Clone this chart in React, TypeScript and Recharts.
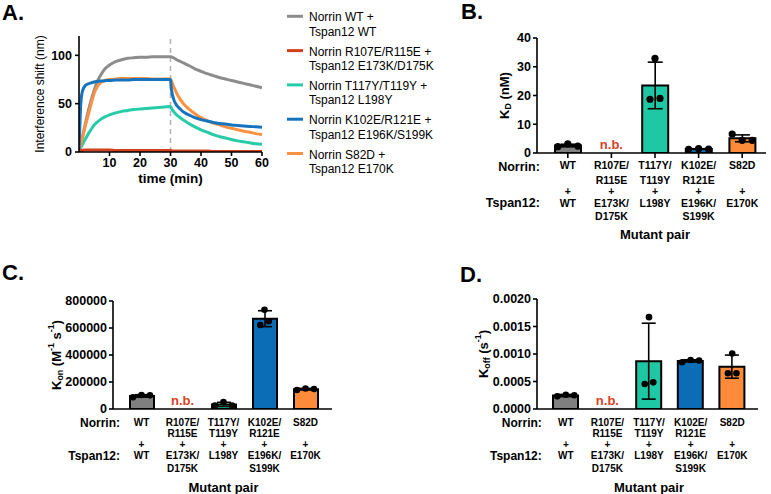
import React from 'react';
import { LineChart, Line, XAxis, YAxis, ReferenceLine, ComposedChart, Bar, Cell, ErrorBar, Scatter } from 'recharts';

const FONT = '"Liberation Sans", Arial, Helvetica, sans-serif';

// ---------- Panel A: binding kinetics (time in min, shift in nm) ----------
const timeMin = [0, 0.25, 0.5, 0.75, 1, 1.5, 2, 3, 4, 5, 6, 7, 8, 9, 10, 12, 14, 16, 18, 20, 22, 24, 26, 28, 30,
  30.25, 30.5, 31, 31.5, 32, 33, 34, 35, 36, 38, 40, 42, 44, 46, 48, 50, 52, 54, 56, 58, 60];
const wtShift = [0, 3.5, 7, 10.5, 14, 21, 28, 42, 54, 64, 73, 79, 84, 87.5, 90, 93.5, 95.5, 97, 97.5, 98, 98, 98.5, 98.5, 98.5, 98.5,
  98.5, 98, 97.5, 96.5, 95.5, 94, 92.5, 91, 89.5, 86, 83.5, 81, 79, 77, 75.5, 74, 72.5, 71, 69.5, 68, 66.5];
const r107Shift = [0, 1, 1.5, 1.5, 1.5, 2, 2, 2, 2, 2, 2, 2, 2, 2, 2, 1.5, 1.5, 1.5, 1.5, 1.5, 1.5, 1.5, 1.5, 1.5, 1.5,
  1.5, 1, 1, 1, 1, 1, 1, 1, 1, 1, 1, 1, 0.5, 0.5, 0.5, 0.5, 0.5, 0.5, 0.5, 0.5, 0.5];
const t117Shift = [0, 1.8, 3.5, 5.3, 7, 10, 13, 18.5, 23.5, 28, 31, 33.5, 35.5, 37, 38.5, 40.5, 42, 43, 44, 44.5, 45, 45.5, 46, 46.5, 47,
  45.5, 44, 42, 40, 38.5, 36, 33.5, 31.5, 29.5, 26, 23, 20.5, 18, 16, 14.5, 13, 11.5, 10.5, 9.5, 8.5, 8];
const k102Shift = [0, 25, 45, 56, 61, 66, 68.5, 70.5, 71.5, 72.5, 73, 73.5, 73.5, 74, 74, 74.5, 74.5, 74.5, 75, 75, 75, 75, 75, 75, 75,
  66, 61, 55, 51, 48.5, 45, 42, 40, 38.5, 35.5, 33.5, 32, 30.5, 29.5, 29, 28, 27.5, 27, 26.5, 26, 25.5];
const s82Shift = [0, 3, 6.5, 10, 13, 19.5, 26, 38, 50, 61, 67.5, 71.5, 73.5, 74.5, 75, 75.5, 76, 76, 76, 76, 76, 75.5, 75.5, 75.5, 75.5,
  74, 72, 68, 64.5, 61, 55.5, 51, 47.5, 44.5, 39.5, 35.5, 32.5, 30, 28, 26, 24.5, 23, 21.5, 20.5, 19, 18];

const legendLabels = [
  ['Norrin WT +', 'Tspan12 WT'],
  ['Norrin R107E/R115E +', 'Tspan12 E173K/D175K'],
  ['Norrin T117Y/T119Y +', 'Tspan12 L198Y'],
  ['Norrin K102E/R121E +', 'Tspan12 E196K/S199K'],
  ['Norrin S82D +', 'Tspan12 E170K'],
];
const lineKeys = ['wt', 'r107', 't117', 'k102', 's82'];
const lineColors = ['#8c8c8c', '#d2401e', '#26cba8', '#1674be', '#fd9142'];
const drawOrder = [0, 2, 4, 3, 1];

const kineticsData = timeMin.map((t, i) => ({
  t,
  wt: wtShift[i],
  r107: r107Shift[i],
  t117: t117Shift[i],
  k102: k102Shift[i],
  s82: s82Shift[i],
}));

// ---------- Panels B-D: mutant pairs ----------
const pairKeys = ['WT', 'R107E/R115E', 'T117Y/T119Y', 'K102E/R121E', 'S82D'];
const norrinLabels = [['WT'], ['R107E/', 'R115E'], ['T117Y/', 'T119Y'], ['K102E/', 'R121E'], ['S82D']];
const tspanLabels = [['WT'], ['E173K/', 'D175K'], ['L198Y'], ['E196K/', 'S199K'], ['E170K']];
const noBinding = [false, true, false, false, false];
const barColors = ['#808080', '#d8431f', '#1fc8a5', '#0a6db6', '#fd8b3a'];
const NB_COLOR = '#d8431f';

const kdMean = [2.6, null, 23.5, 1.4, 5.1];
const kdSd = [0.45, null, 8.1, 0.1, 1.2];
const kdRep1 = [2.2, null, 32.9, 1.3, 6.6];
const kdRep2 = [3.2, null, 18.7, 1.5, 4.4];
const kdRep3 = [2.4, null, 19.0, 1.4, 4.4];
const kdTicks = [0, 10, 20, 30, 40];

const konMean = [97000, null, 34000, 669000, 147000];
const konSd = [9000, null, 15500, 59000, 5500];
const konRep1 = [87000, null, 25000, 622000, 141000];
const konRep2 = [104000, null, 52000, 735000, 152000];
const konRep3 = [101000, null, 25000, 650000, 148000];
const konTicks = [0, 200000, 400000, 600000, 800000];

const koffMean = [0.000245, null, 0.00087, 0.000875, 0.00077];
const koffSd = [0.00002, null, 0.00069, 0.00002, 0.00021];
const koffRep1 = [0.00023, null, 0.000455, 0.00085, 0.00065];
const koffRep2 = [0.00026, null, 0.00167, 0.00089, 0.00101];
const koffRep3 = [0.00025, null, 0.000485, 0.00088, 0.00065];
const koffTicks = [0, 0.0005, 0.001, 0.0015, 0.002];

function buildRows(mean: (number | null)[], sd: (number | null)[], r1: (number | null)[], r2: (number | null)[], r3: (number | null)[]) {
  return pairKeys.map((cat, i) => ({
    cat,
    mean: mean[i],
    sd: sd[i],
    r1: r1[i],
    r2: r2[i],
    r3: r3[i],
  }));
}
const kdRows = buildRows(kdMean, kdSd, kdRep1, kdRep2, kdRep3);
const konRows = buildRows(konMean, konSd, konRep1, konRep2, konRep3);
const koffRows = buildRows(koffMean, koffSd, koffRep1, koffRep2, koffRep3);

// ---------- helpers ----------
const axisStroke = { stroke: '#000', strokeWidth: 1.6 };
const tickText = { fontSize: 12.5, fontWeight: 700, fill: '#000', fontFamily: FONT };

// beeswarm-like horizontal spread of replicate dots (GraphPad style)
function swarmOffsets(vals: (number | null)[], domMax: number, plotH: number, spacing: number) {
  const px = vals.map((v) => (v == null ? NaN : (v / domMax) * plotH));
  const idx = [0, 1, 2].filter((i) => !isNaN(px[i])).sort((a, b) => px[a] - px[b]);
  const offs = [0, 0, 0];
  let cluster: number[] = [];
  const flush = () => {
    const c = [...cluster].sort((a, b) => a - b);
    c.forEach((ix, j) => {
      offs[ix] = (j - (c.length - 1) / 2) * spacing;
    });
    cluster = [];
  };
  idx.forEach((ix, k) => {
    if (k > 0 && px[ix] - px[idx[k - 1]] > 7.5) flush();
    cluster.push(ix);
  });
  flush();
  return offs;
}

function makeDot(which: number, domMax: number, plotH: number, spacing: number, r: number) {
  return (props: any) => {
    const { cx, cy, payload } = props;
    if (cx == null || cy == null || !isFinite(cx) || !isFinite(cy) || payload == null) return <g />;
    const vals = [payload.r1, payload.r2, payload.r3];
    if (vals[which] == null) return <g />;
    const offs = swarmOffsets(vals, domMax, plotH, spacing);
    return <circle cx={cx + offs[which]} cy={cy} r={r} fill="#000" />;
  };
}

type Part = { t: string; sub?: boolean; sup?: boolean };

function YTitle(props: any) {
  const { viewBox, cx, parts, fontSize, weight } = props;
  const cy = viewBox.y + viewBox.height / 2;
  let shift = 0;
  const spans = (parts as Part[]).map((p, i) => {
    const target = p.sub ? 3.5 : p.sup ? -5 : 0;
    const dy = target - shift;
    shift = target;
    return (
      <tspan key={i} dy={dy} fontSize={p.sub || p.sup ? fontSize * 0.68 : fontSize}>
        {p.t}
      </tspan>
    );
  });
  return (
    <text
      x={cx}
      y={cy}
      transform={`rotate(-90 ${cx} ${cy})`}
      textAnchor="middle"
      dominantBaseline="central"
      fontFamily={FONT}
      fontWeight={weight || 700}
      fontSize={fontSize}
      fill="#000"
    >
      {spans}
    </text>
  );
}

function XTitle(props: any) {
  const { viewBox, dy, text } = props;
  const cx = viewBox.x + viewBox.width / 2;
  return (
    <text x={cx} y={viewBox.y + dy} textAnchor="middle" dominantBaseline="central" fontFamily={FONT} fontWeight={700} fontSize={13.5} fill="#000">
      {text}
    </text>
  );
}

type TickCfg = {
  tickSize: number;
  rows: number[];
  catFont: number;
  rowFont: number;
  titleFont: number;
  rowLabelDx: number;
  rowLabelDy: number;
  nbDy: number;
};

function CatTick(props: any) {
  const { x, y, payload, cfg } = props as { x: number; y: number; payload: any; cfg: TickCfg };
  const i: number = props.index ?? payload?.index ?? pairKeys.indexOf(payload?.value);
  const ay = y - cfg.tickSize;
  const common = { fontFamily: FONT, fontWeight: 700, fill: '#000', dominantBaseline: 'central' as const };
  const n = norrinLabels[i] || [];
  const t = tspanLabels[i] || [];
  return (
    <g>
      {n.map((s, k) => (
        <text key={'n' + k} x={x} y={ay + cfg.rows[k]} textAnchor="middle" fontSize={cfg.catFont} {...common}>
          {s}
        </text>
      ))}
      <text x={x} y={ay + cfg.rows[2]} textAnchor="middle" fontSize={cfg.catFont} {...common}>
        +
      </text>
      {t.map((s, k) => (
        <text key={'t' + k} x={x} y={ay + cfg.rows[3 + k]} textAnchor="middle" fontSize={cfg.catFont} {...common}>
          {s}
        </text>
      ))}
      {i === 0 && (
        <>
          <text x={x + cfg.rowLabelDx} y={ay + cfg.rows[0] + cfg.rowLabelDy} textAnchor="end" fontSize={cfg.rowFont} {...common}>
            Norrin:
          </text>
          <text x={x + cfg.rowLabelDx} y={ay + cfg.rows[3]} textAnchor="end" fontSize={cfg.rowFont} {...common}>
            Tspan12:
          </text>
        </>
      )}
      {i === 2 && (
        <text x={x} y={ay + cfg.rows[5]} textAnchor="middle" fontSize={cfg.titleFont} {...common}>
          Mutant pair
        </text>
      )}
      {noBinding[i] && (
        <text x={x} y={ay - cfg.nbDy} textAnchor="middle" fontSize={13} fontFamily={FONT} fontWeight={700} fill={NB_COLOR} dominantBaseline="central">
          n.b.
        </text>
      )}
    </g>
  );
}

type BarPanelProps = {
  rows: any[];
  width: number;
  height: number;
  margin: { top: number; right: number; left: number; bottom: number };
  yWidth: number;
  xHeight: number;
  domainMax: number;
  ticks: number[];
  tickFmt?: (v: number) => string;
  padding: { left: number; right: number };
  barSize: number;
  cfg: TickCfg;
  showCatTicks: boolean;
  titleCx: number;
  titleParts: Part[];
  plotH: number;
  spacing: number;
  dotR: number;
  capW: number;
};

function BarPanel(p: BarPanelProps) {
  return (
    <ComposedChart width={p.width} height={p.height} data={p.rows} margin={p.margin}>
      <XAxis
        dataKey="cat"
        type="category"
        interval={0}
        height={p.xHeight}
        padding={p.padding}
        axisLine={axisStroke}
        tickLine={p.showCatTicks ? axisStroke : false}
        tickSize={p.cfg.tickSize}
        tickMargin={0}
        tick={<CatTick cfg={p.cfg} />}
      />
      <YAxis
        type="number"
        domain={[0, p.domainMax]}
        ticks={p.ticks}
        width={p.yWidth}
        tick={tickText}
        tickFormatter={p.tickFmt}
        tickSize={4}
        tickMargin={2}
        axisLine={axisStroke}
        tickLine={axisStroke}
        allowDataOverflow
        label={<YTitle cx={p.titleCx} parts={p.titleParts} fontSize={13} />}
      />
      <Bar dataKey="mean" barSize={p.barSize} stroke="#000" strokeWidth={2} isAnimationActive={false}>
        {p.rows.map((_, i) => (
          <Cell key={i} fill={barColors[i]} />
        ))}
        <ErrorBar dataKey="sd" width={p.capW} stroke="#000" strokeWidth={1.6} direction="y" />
      </Bar>
      <Scatter dataKey="r1" isAnimationActive={false} shape={makeDot(0, p.domainMax, p.plotH, p.spacing, p.dotR)} />
      <Scatter dataKey="r2" isAnimationActive={false} shape={makeDot(1, p.domainMax, p.plotH, p.spacing, p.dotR)} />
      <Scatter dataKey="r3" isAnimationActive={false} shape={makeDot(2, p.domainMax, p.plotH, p.spacing, p.dotR)} />
    </ComposedChart>
  );
}

const cfgB: TickCfg = { tickSize: 5, rows: [12.4, 26.7, 38.4, 50, 63.4, 81.7], catFont: 10.5, rowFont: 12.5, titleFont: 13, rowLabelDx: -28, rowLabelDy: 1.5, nbDy: 9 };
const cfgC: TickCfg = { tickSize: 0, rows: [13.7, 24.3, 35.2, 46.7, 59.3, 78], catFont: 10, rowFont: 12, titleFont: 13, rowLabelDx: -21.5, rowLabelDy: 0.5, nbDy: 8.5 };
const cfgD: TickCfg = { ...cfgC, rowLabelDx: -24 };

export default function App() {
  return (
    <div style={{ position: 'absolute', left: 0, top: 0, width: 771, height: 494, background: '#fff', fontFamily: FONT, overflow: 'hidden' }}>
      {/* Panel A */}
      <div style={{ position: 'absolute', left: 0, top: 0 }}>
        <LineChart width={280} height={200} data={kineticsData} margin={{ top: 36, right: 18, left: 0, bottom: 0 }}>
          <XAxis
            dataKey="t"
            type="number"
            domain={[0, 60]}
            ticks={[10, 20, 30, 40, 50, 60]}
            height={48}
            tick={tickText}
            tickSize={4}
            tickMargin={2}
            axisLine={axisStroke}
            tickLine={axisStroke}
            allowDataOverflow
            label={<XTitle dy={26} text="time (min)" />}
          />
          <YAxis
            type="number"
            domain={[0, 120]}
            ticks={[0, 50, 100]}
            width={79}
            tick={tickText}
            tickSize={4}
            tickMargin={3}
            axisLine={axisStroke}
            tickLine={axisStroke}
            allowDataOverflow
            label={<YTitle cx={40} parts={[{ t: 'Interference shift (nm)' }]} fontSize={12} weight={400} />}
          />
          <ReferenceLine x={30} stroke="#b5b5b5" strokeWidth={1.6} strokeDasharray="5 4" />
          {drawOrder.map((k) => (
            <Line
              key={lineKeys[k]}
              dataKey={lineKeys[k]}
              type="monotone"
              stroke={lineColors[k]}
              strokeWidth={3}
              dot={false}
              isAnimationActive={false}
            />
          ))}
        </LineChart>
      </div>

      {/* Panel B */}
      <div style={{ position: 'absolute', left: 440, top: 0 }}>
        <BarPanel
          rows={kdRows}
          width={331}
          height={250}
          margin={{ top: 38, right: 5, left: 0, bottom: 0 }}
          yWidth={97}
          xHeight={97}
          domainMax={40}
          ticks={kdTicks}
          padding={{ left: 9, right: 2 }}
          barSize={26}
          cfg={cfgB}
          showCatTicks={true}
          titleCx={64}
          titleParts={[{ t: 'K' }, { t: 'D', sub: true }, { t: ' (nM)' }]}
          plotH={115}
          spacing={10}
          dotR={3.6}
          capW={7.5}
        />
      </div>

      {/* Panel C */}
      <div style={{ position: 'absolute', left: 0, top: 250 }}>
        <BarPanel
          rows={konRows}
          width={385}
          height={244}
          margin={{ top: 51, right: 53, left: 0, bottom: 0 }}
          yWidth={113}
          xHeight={85}
          domainMax={800000}
          ticks={konTicks}
          padding={{ left: 8, right: 6 }}
          barSize={24}
          cfg={cfgC}
          showCatTicks={false}
          titleCx={56}
          titleParts={[{ t: 'K' }, { t: 'on', sub: true }, { t: ' (M' }, { t: '-1', sup: true }, { t: ' s' }, { t: '-1', sup: true }, { t: ')' }]}
          plotH={108}
          spacing={8.5}
          dotR={3.3}
          capW={7}
        />
      </div>

      {/* Panel D */}
      <div style={{ position: 'absolute', left: 385, top: 250 }}>
        <BarPanel
          rows={koffRows}
          width={386}
          height={244}
          margin={{ top: 49, right: 13, left: 0, bottom: 0 }}
          yWidth={152}
          xHeight={85}
          domainMax={0.002}
          ticks={koffTicks}
          tickFmt={(v: number) => v.toFixed(4)}
          padding={{ left: 8, right: 5 }}
          barSize={25}
          cfg={cfgD}
          showCatTicks={false}
          titleCx={98}
          titleParts={[{ t: 'K' }, { t: 'off', sub: true }, { t: ' (s' }, { t: '-1', sup: true }, { t: ')' }]}
          plotH={110}
          spacing={8.5}
          dotR={3.3}
          capW={7}
        />
      </div>

      {/* Panel letters and legend of panel A */}
      <svg width={771} height={494} style={{ position: 'absolute', left: 0, top: 0, pointerEvents: 'none' }}>
        <g fontFamily={FONT} fontWeight={700} fontSize={22} fill="#000">
          <text x={2} y={20}>A.</text>
          <text x={461} y={19}>B.</text>
          <text x={2} y={280}>C.</text>
          <text x={460} y={281.5}>D.</text>
        </g>
        <g fontFamily={FONT} fontSize={12} fill="#000">
          {legendLabels.map((lines, i) => {
            const y0 = 17.3 + 34.3 * i;
            return (
              <g key={i}>
                <line x1={287} x2={303} y1={y0 - 1} y2={y0 - 1} stroke={lineColors[i]} strokeWidth={3} />
                {lines.map((s, k) => (
                  <text key={k} x={309} y={y0 + 14.5 * k} dominantBaseline="central">
                    {s}
                  </text>
                ))}
              </g>
            );
          })}
        </g>
      </svg>
    </div>
  );
}
